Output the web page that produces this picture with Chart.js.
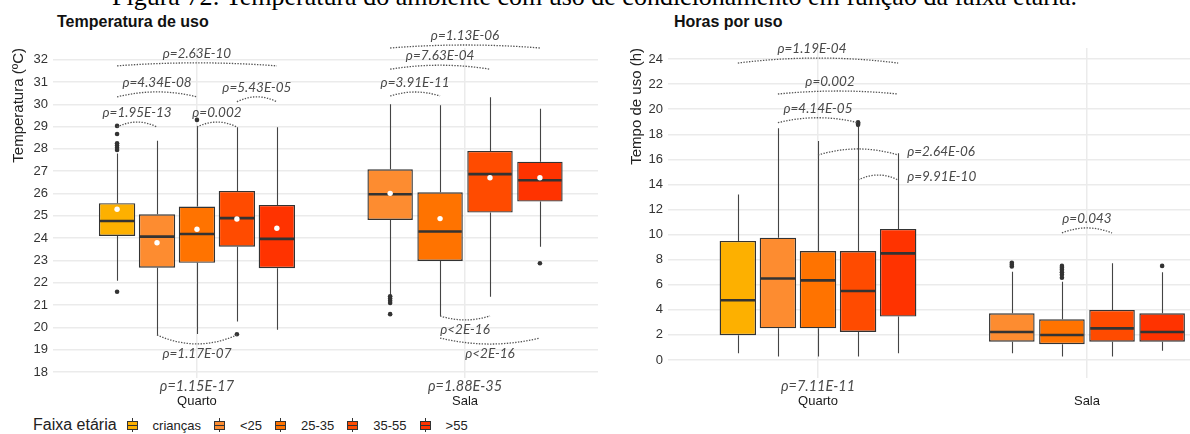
<!DOCTYPE html>
<html>
<head>
<meta charset="utf-8">
<script src="https://cdn.jsdelivr.net/npm/chart.js@4.4.1/dist/chart.umd.min.js"></script>
<style>
  body { margin: 0; background: #fff; width: 1190px; height: 434px; overflow: hidden; position: relative;
         font-family: "Liberation Sans", Arial, sans-serif; }
  #caption { position: absolute; left: 112px; top: -16px; font: 26px/1 "Liberation Serif", serif; white-space: nowrap; color: #000; }
  .ptitle { position: absolute; top: 14px; font: bold 16px/16px "Liberation Sans", Arial, sans-serif; color: #111; }
  #wrapL { position: absolute; left: 0; top: 0; }
  #wrapR { position: absolute; left: 600px; top: 0; }
  #legend { position: absolute; left: 33px; top: 416px; height: 18px; display: flex; align-items: center; color: #222; font-size: 13px; }
  #legend .lt { font-size: 16px; margin-right: 10px; }
  #legend .key { position: relative; width: 11px; height: 14px; margin-right: 15px; }
  #legend .key::before { content: ''; position: absolute; left: 5px; top: 0; bottom: 0; width: 1px; background: #333; }
  #legend .key i { position: absolute; left: 0; top: 3px; width: 9px; height: 7px; border: 1px solid #333;
         background-image: linear-gradient(#333, #333); background-size: 100% 1px; background-position: center; background-repeat: no-repeat; }
  #legend .lbl { margin-right: 13px; }
</style>
</head>
<body>
<div id="caption">Figura 72: Temperatura do ambiente com uso de condicionamento em função da faixa etária.</div>
<div class="ptitle" style="left:57px">Temperatura de uso</div>
<div class="ptitle" style="left:674px">Horas por uso</div>
<div id="wrapL"><canvas id="left" width="600" height="410"></canvas></div>
<div id="wrapR"><canvas id="right" width="590" height="410"></canvas></div>
<div id="legend"></div>

<script>
// age groups and places
const groups = ['crianças', '<25', '25-35', '35-55', '>55'];
const places = ['Quarto', 'Sala'];

// temperature boxes: [min, q1, median, q3, max]
const tempQuarto = [
  [22.1, 24.1, 24.77, 25.57, 27.8],
  [19.64, 22.68, 24.07, 25.07, 28.37],
  [19.71, 22.9, 24.19, 25.42, 29.03],
  [20.27, 23.62, 24.9, 26.12, 28.97],
  [19.9, 22.66, 23.97, 25.49, 28.97]
];
const tempSala = [
  null,
  [21.46, 24.82, 25.97, 27.09, 30.0],
  [20.52, 22.98, 24.3, 26.06, 29.96],
  [21.38, 25.15, 26.87, 27.91, 30.31],
  [23.62, 25.64, 26.6, 27.43, 29.8]
];
const tempMeanQuarto = [25.3, 23.8, 24.4, 24.86, 24.45];
const tempMeanSala = [null, 26.01, 24.88, 26.71, 26.71];
const tempOutQuarto = [[21.6, 27.95, 28.05, 28.15, 28.25, 28.67, 29.03], [], [29.3], [19.7], []];
const tempOutSala = [[], [21.4, 21.3, 21.2, 21.1, 20.6], [], [], [22.88]];
const tempTicks = [18, 19, 20, 21, 22, 23, 24, 25, 26, 27, 28, 29, 30, 31, 32];

// hours per use boxes: [min, q1, median, q3, max]
const horasQuarto = [
  [0.53, 1.97, 4.76, 9.49, 13.2],
  [0.27, 2.52, 6.49, 9.75, 18.47],
  [0.27, 2.52, 6.35, 8.69, 17.46],
  [0.27, 2.23, 5.5, 8.69, 18.6],
  [0.53, 3.46, 8.5, 10.45, 16.48]
];
const horasSala = [
  null,
  [0.53, 1.46, 2.23, 3.72, 7.04],
  [0.27, 1.25, 1.99, 3.24, 6.24],
  [0.27, 1.46, 2.52, 3.99, 7.71],
  [0.74, 1.46, 2.23, 3.72, 6.99]
];
const horasOutQuarto = [[], [], [], [18.75, 18.85, 18.95], []];
const horasOutSala = [[], [7.45, 7.6, 7.75], [6.55, 6.8, 7.0, 7.2, 7.35, 7.5], [], [7.5]];
const horasTicks = [0, 2, 4, 6, 8, 10, 12, 14, 16, 18, 20, 22, 24];

// significance brackets: [place, group from, group to, y value, label]
const tempBrackets = [
  [0, 0, 4, 31.72, 'ρ=2.63E-10'],
  [0, 0, 2, 30.33, 'ρ=4.34E-08'],
  [0, 0, 1, 28.98, 'ρ=1.95E-13'],
  [0, 2, 3, 28.98, 'ρ=0.002'],
  [0, 3, 4, 30.11, 'ρ=5.43E-05'],
  [0, 1, 3, 19.67, 'ρ=1.17E-07'],
  [1, 1, 4, 32.52, 'ρ=1.13E-06'],
  [1, 1, 3, 31.57, 'ρ=7.63E-04'],
  [1, 1, 2, 30.37, 'ρ=3.91E-11'],
  [1, 2, 3, 20.52, 'ρ<2E-16'],
  [1, 2, 4, 19.53, 'ρ<2E-16']
];
const horasBrackets = [
  [0, 0, 4, 23.68, 'ρ=1.19E-04'],
  [0, 1, 4, 21.21, 'ρ=0.002'],
  [0, 1, 3, 18.92, 'ρ=4.14E-05'],
  [0, 2, 4, 16.35, 'ρ=2.64E-06'],
  [0, 3, 4, 14.35, 'ρ=9.91E-10'],
  [1, 2, 3, 10.13, 'ρ=0.043']
];
const tempPlaceP = ['ρ=1.15E-17', 'ρ=1.88E-35'];
const horasPlaceP = ['ρ=7.11E-11', ''];

// styles
const colors = ['#FDB000', '#FD8C30', '#FF7300', '#FF4B00', '#FF3300'];
const ink = '#333333';
const noteFont = 'italic 13.5px Lato, "Open Sans", sans-serif';
// how each bracket is drawn: 'up' (label above), 'down' (label below), 'side' (label to the right)
const tempBracketStyle = [
  {dir: 'up', bulge: 3}, {dir: 'up', bulge: 5}, {dir: 'up', bulge: 5}, {dir: 'up', bulge: 5}, {dir: 'up', bulge: 5},
  {dir: 'down', bulge: 9}, {dir: 'up', bulge: 3}, {dir: 'up', bulge: 4}, {dir: 'up', bulge: 4},
  {dir: 'down', bulge: 4}, {dir: 'down', bulge: 6}
];
const horasBracketStyle = [
  {dir: 'up', bulge: 5, dx: -6}, {dir: 'up', bulge: 3, dx: -8}, {dir: 'up', bulge: 5},
  {dir: 'side', bulge: 6}, {dir: 'side', bulge: 5}, {dir: 'up', bulge: 5}
];

Chart.defaults.font.family = '"Liberation Sans", Arial, sans-serif';
Chart.defaults.color = '#333';

function boxExtras(stats, means, outs, brackets, bStyle, placeP) {
  return {
    id: 'boxExtras',
    beforeDatasetsDraw(chart) {
      const y = chart.scales.y, ctx = chart.ctx;
      ctx.save();
      ctx.strokeStyle = '#444';
      ctx.lineWidth = 1.1;
      groups.forEach((g, gi) => {
        const meta = chart.getDatasetMeta(gi);
        places.forEach((p, pi) => {
          const s = stats[pi][gi];
          if (!s) return;
          const x = Math.round(meta.data[pi].x) + 0.5;
          ctx.beginPath();
          ctx.moveTo(x, y.getPixelForValue(s[0]));
          ctx.lineTo(x, y.getPixelForValue(s[1]));
          ctx.moveTo(x, y.getPixelForValue(s[3]));
          ctx.lineTo(x, y.getPixelForValue(s[4]));
          ctx.stroke();
        });
      });
      ctx.restore();
    },
    afterDatasetsDraw(chart) {
      const y = chart.scales.y, xs = chart.scales.x, ctx = chart.ctx;
      const gx = (pi, gi) => chart.getDatasetMeta(gi).data[pi].x;
      ctx.save();
      groups.forEach((g, gi) => {
        const meta = chart.getDatasetMeta(gi);
        places.forEach((p, pi) => {
          const s = stats[pi][gi];
          if (!s) return;
          const el = meta.data[pi];
          const x = el.x, w = el.width;
          ctx.strokeStyle = ink;
          ctx.lineWidth = 2.6;
          ctx.beginPath();
          const ym = y.getPixelForValue(s[2]);
          ctx.moveTo(x - w / 2 + 1, ym);
          ctx.lineTo(x + w / 2 - 1, ym);
          ctx.stroke();
          ctx.fillStyle = ink;
          (outs[pi][gi] || []).forEach(v => {
            ctx.beginPath();
            ctx.arc(x, y.getPixelForValue(v), 2.3, 0, Math.PI * 2);
            ctx.fill();
          });
          if (means && means[pi][gi] != null) {
            ctx.fillStyle = '#fff';
            ctx.beginPath();
            ctx.arc(x, y.getPixelForValue(means[pi][gi]), 2.7, 0, Math.PI * 2);
            ctx.fill();
          }
        });
      });
      // brackets
      ctx.font = noteFont;
      brackets.forEach((b, i) => {
        const st = bStyle[i];
        const xa = gx(b[0], b[1]), xb = gx(b[0], b[2]);
        const yy = y.getPixelForValue(b[3]);
        const sgn = st.dir === 'down' ? 1 : -1;
        ctx.strokeStyle = '#555';
        ctx.lineWidth = 1.3;
        ctx.setLineDash([1.4, 1.4]);
        ctx.beginPath();
        ctx.moveTo(xa, yy);
        ctx.quadraticCurveTo((xa + xb) / 2, yy + sgn * 2 * st.bulge, xb, yy);
        ctx.stroke();
        ctx.setLineDash([]);
        ctx.fillStyle = '#4a4a4a';
        ctx.textBaseline = 'middle';
        if (st.dir === 'side') {
          ctx.textAlign = 'left';
          ctx.fillText(b[4], xb + 9, yy - 3);
        } else {
          ctx.textAlign = 'center';
          ctx.fillText(b[4], (xa + xb) / 2 + (st.dx || 0), yy + sgn * (st.bulge + 9.5));
        }
      });
      // p-value per place, under the panel
      ctx.font = 'italic 14.5px Lato, "Open Sans", sans-serif';
      ctx.fillStyle = '#4a4a4a';
      ctx.textAlign = 'center';
      placeP.forEach((t, pi) => {
        if (t) ctx.fillText(t, xs.getPixelForValue(pi + 1), chart.chartArea.bottom + 8);
      });
      ctx.restore();
    }
  };
}

function makeChart(id, stats, means, outs, ticks, yMin, yMax, xMin, xMax, yTitle, yWidth, titlePad, brackets, bStyle, placeP, padRight) {
  const datasets = groups.map((g, gi) => ({
    label: g,
    data: places.map((p, pi) => ({ x: pi + 1, y: stats[pi][gi] ? [stats[pi][gi][1], stats[pi][gi][3]] : null })),
    backgroundColor: colors[gi],
    borderColor: ink,
    borderWidth: 1.4,
    borderSkipped: false,
    skipNull: true,
    categoryPercentage: 0.745,
    barPercentage: 0.91
  }));
  return new Chart(document.getElementById(id), {
    type: 'bar',
    data: { datasets },
    options: {
      responsive: false,
      animation: false,
      events: [],
      layout: { padding: { top: 48, right: padRight, left: 0, bottom: 0 } },
      plugins: { legend: { display: false }, tooltip: { enabled: false } },
      scales: {
        x: {
          type: 'linear', min: xMin, max: xMax, offset: false,
          afterBuildTicks: s => { s.ticks = places.map((p, i) => ({ value: i + 1 })); },
          afterFit: s => { s.height = 32; },
          grid: { offset: false, color: '#EBEBEB', lineWidth: 1.5, drawTicks: false },
          border: { display: false },
          ticks: { callback: v => places[v - 1], padding: 16, color: '#1a1a1a', font: { size: 13 }, maxRotation: 0, autoSkip: false }
        },
        y: {
          min: yMin, max: yMax,
          afterBuildTicks: s => { s.ticks = ticks.map(v => ({ value: v })); },
          afterFit: s => { s.width = yWidth; },
          grid: { color: '#EBEBEB', lineWidth: 1.5, drawTicks: false },
          border: { display: false },
          ticks: { padding: 5, color: '#333', font: { size: 13 } },
          title: { display: true, text: yTitle, align: 'end', color: '#222', font: { size: 15 }, padding: { top: titlePad, bottom: 0 } }
        }
      }
    },
    plugins: [boxExtras(stats, means, outs, brackets, bStyle, placeP)]
  });
}

makeChart('left', [tempQuarto, tempSala], [tempMeanQuarto, tempMeanSala], [tempOutQuarto, tempOutSala],
  tempTicks, 17.74, 32.52, 0.463, 2.496, 'Temperatura (ºC)', 53, 10, tempBrackets, tempBracketStyle, tempPlaceP, 2);
makeChart('right', [horasQuarto, horasSala], null, [horasOutQuarto, horasOutSala],
  horasTicks, -1.44, 24.88, 0.4424, 2.383, 'Tempo de uso (h)', 68, 28, horasBrackets, horasBracketStyle, horasPlaceP, 0);

// legend
const legendEl = document.getElementById('legend');
const lt = document.createElement('span');
lt.className = 'lt';
lt.textContent = 'Faixa etária';
legendEl.appendChild(lt);
groups.forEach((g, gi) => {
  const key = document.createElement('span');
  key.className = 'key';
  const box = document.createElement('i');
  box.style.backgroundColor = colors[gi];
  key.appendChild(box);
  const lbl = document.createElement('span');
  lbl.className = 'lbl';
  lbl.textContent = g;
  legendEl.appendChild(key);
  legendEl.appendChild(lbl);
});
</script>
</body>
</html>
